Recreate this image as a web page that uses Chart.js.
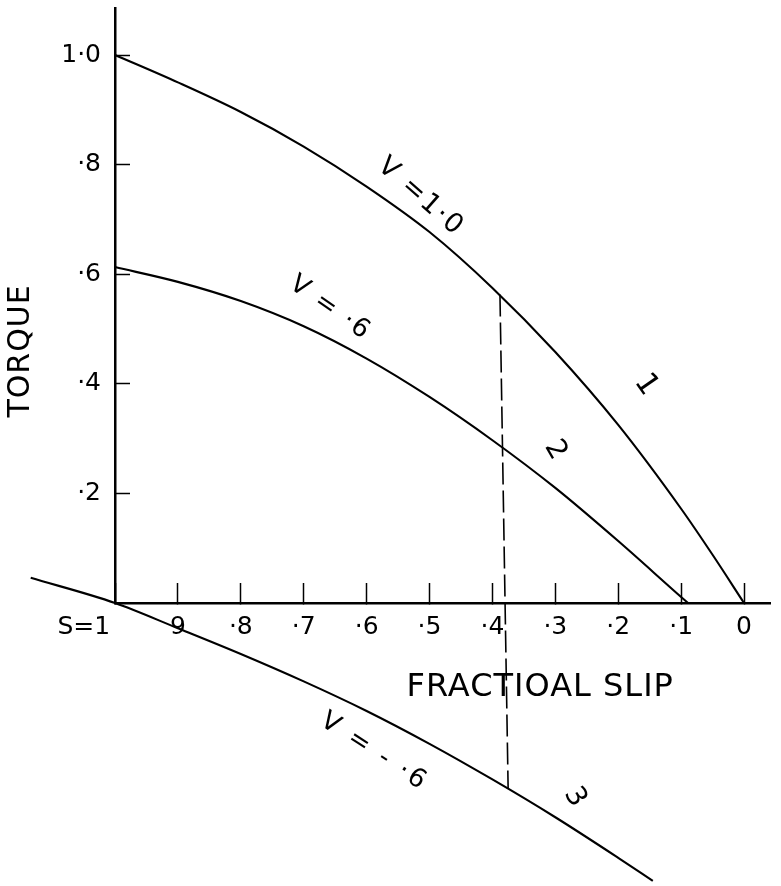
<!DOCTYPE html>
<html>
<head>
<meta charset="utf-8">
<script src="https://cdn.jsdelivr.net/npm/chart.js@4.4.1/dist/chart.umd.min.js"></script>
<style>
  html, body { margin: 0; padding: 0; background: #fff; }
  canvas { display: block; }
</style>
</head>
<body>
<canvas id="c" width="781" height="886"></canvas>
<script>
// Axis ticks (slip runs from 1 at the left down to 0 at the right)
const slipTicks = [1, 0.9, 0.8, 0.7, 0.6, 0.5, 0.4, 0.3, 0.2, 0.1, 0];
const slipTickLabels = ['S=1\u2003\u2003\u2002', '9', '·8', '·7', '·6', '·5', '·4', '·3', '·2', '·1', '0'];
const torqueTicks = [0.2, 0.4, 0.6, 0.8, 1.0];
const torqueTickLabels = ['·2', '·4', '·6', '·8', '1·0'];

// Curve 1: V = 1.0
const slipV10   = [1.0, 0.9, 0.8, 0.7, 0.6, 0.5, 0.4, 0.3, 0.2, 0.1, 0.05, 0];
const torqueV10 = [1.0, 0.950, 0.896, 0.833, 0.760, 0.677, 0.575, 0.458, 0.325, 0.172, 0.088, 0];

// Curve 2: V = .6
const slipV06   = [1.0, 0.9, 0.8, 0.7, 0.6, 0.5, 0.4, 0.3, 0.2, 0.1, 0.089];
const torqueV06 = [0.613, 0.586, 0.551, 0.505, 0.446, 0.376, 0.297, 0.210, 0.113, 0.011, 0];

// Curve 3: V = -.6
const slipVm06   = [1.134, 1.0, 0.9, 0.8, 0.7, 0.6, 0.5, 0.4, 0.3, 0.2, 0.145];
const torqueVm06 = [0.046, 0, -0.046, -0.093, -0.143, -0.197, -0.257, -0.322, -0.391, -0.465, -0.507];

// Dashed operating-slip marker between curves 1 and 3
const slipMarker   = [0.388, 0.375];
const torqueMarker = [0.563, -0.339];

const FONT = '"DejaVu Sans", "Liberation Sans", sans-serif';

const toPoints = (xs, ys) => xs.map((s, i) => ({ x: s, y: ys[i] }));

// Hand-lettered labels, placed in data coordinates
const notes = [
  { text: 'V =1·0',         s: 0.514, t: 0.741,  angle: 41,  size: 27, spacing: 2 },
  { text: 'V = ·6',         s: 0.658, t: 0.538,  angle: 35,  size: 26, spacing: 2 },
  { text: 'V = - ·6',       s: 0.588, t: -0.272, angle: 33,  size: 26, spacing: 3 },
  { text: '1',              s: 0.156, t: 0.398,  angle: 55,  size: 30, spacing: 0 },
  { text: '2',              s: 0.300, t: 0.279,  angle: 60,  size: 28, spacing: 0 },
  { text: '3',              s: 0.269, t: -0.354, angle: 60,  size: 28, spacing: 0 },
  { text: 'FRACTIOAL SLIP', s: 0.324, t: -0.155, angle: 0,   size: 32, spacing: 1 },
  { text: 'TORQUE',         s: 1.149, t: 0.460,  angle: -90, size: 30, spacing: 1 }
];

const notePlugin = {
  id: 'notes',
  afterDatasetsDraw(chart) {
    const { ctx, scales: { x, y } } = chart;
    ctx.save();
    ctx.fillStyle = '#000';
    ctx.textAlign = 'center';
    ctx.textBaseline = 'middle';
    for (const n of notes) {
      ctx.save();
      ctx.translate(x.getPixelForValue(n.s), y.getPixelForValue(n.t));
      ctx.rotate(n.angle * Math.PI / 180);
      ctx.font = n.size + 'px ' + FONT;
      if ('letterSpacing' in ctx) ctx.letterSpacing = n.spacing + 'px';
      ctx.fillText(n.text, 0, 0);
      ctx.restore();
    }
    ctx.restore();
  }
};

const curveStyle = {
  borderColor: '#000',
  borderWidth: 2.1,
  pointRadius: 0,
  cubicInterpolationMode: 'monotone',
  fill: false,
  clip: false
};

new Chart(document.getElementById('c'), {
  type: 'line',
  data: {
    datasets: [
      { label: 'V = 1.0', data: toPoints(slipV10, torqueV10), ...curveStyle },
      { label: 'V = .6',  data: toPoints(slipV06, torqueV06), ...curveStyle },
      { label: 'V = -.6', data: toPoints(slipVm06, torqueVm06), ...curveStyle },
      { label: 'slip', data: toPoints(slipMarker, torqueMarker), ...curveStyle,
        borderWidth: 1.6, cubicInterpolationMode: 'default', tension: 0, borderDash: [22, 6] }
    ]
  },
  options: {
    responsive: false,
    animation: false,
    events: [],
    layout: { padding: { left: 0, top: 8, right: 11, bottom: 0 } },
    plugins: { legend: { display: false }, tooltip: { enabled: false }, title: { display: false } },
    scales: {
      x: {
        type: 'linear',
        reverse: true,
        min: -0.0413,
        max: 1.0,
        afterBuildTicks: s => { s.ticks = slipTicks.map(v => ({ value: v })); },
        afterFit: s => { s.height = 283; s.paddingLeft = 0; s.paddingRight = 0; },
        grid: { display: true, drawOnChartArea: false, drawTicks: true, tickLength: -20, tickColor: '#000', tickWidth: 1.5 },
        border: { display: true, color: '#000', width: 2.5 },
        ticks: {
          autoSkip: false, maxRotation: 0, minRotation: 0, padding: 29, color: '#000',
          font: { family: FONT, size: 25 },
          callback: (v, i) => slipTickLabels[i]
        }
      },
      y: {
        type: 'linear',
        min: 0,
        max: 1.0858,
        afterBuildTicks: s => { s.ticks = torqueTicks.map(v => ({ value: v })); },
        afterFit: s => { s.width = 115; s.paddingTop = 0; s.paddingBottom = 0; },
        grid: { display: true, drawOnChartArea: false, drawTicks: true, tickLength: -15, tickColor: '#000', tickWidth: 1.5 },
        border: { display: true, color: '#000', width: 2.5 },
        ticks: {
          autoSkip: false, padding: 29, color: '#000',
          font: { family: FONT, size: 25 },
          callback: (v, i) => torqueTickLabels[i]
        }
      }
    }
  },
  plugins: [notePlugin]
});
</script>
</body>
</html>
